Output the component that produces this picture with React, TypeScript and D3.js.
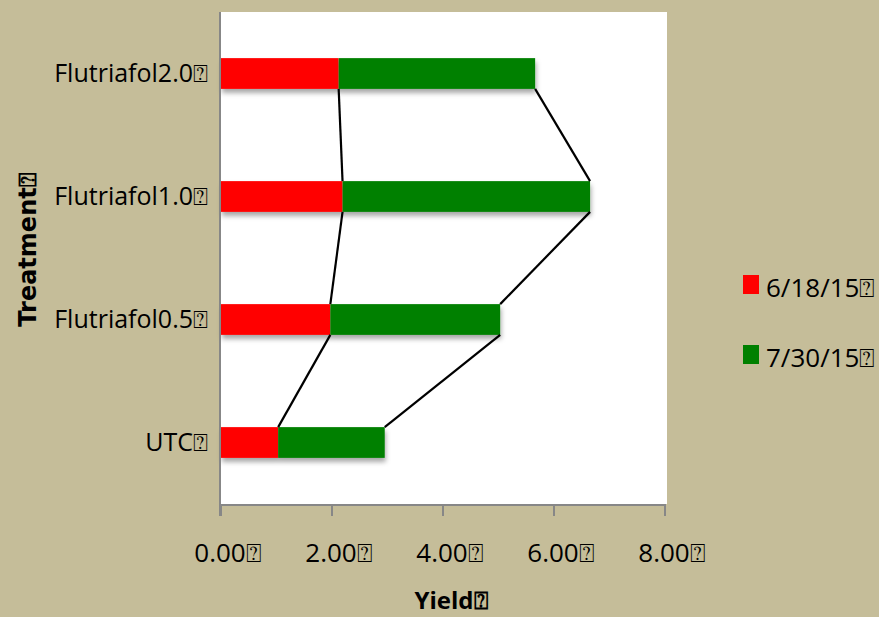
import React from 'react';
import * as d3 from 'd3';

// data
const treatments = ['UTC', 'Flutriafol0.5', 'Flutriafol1.0', 'Flutriafol2.0'];
const june18 = [1.03, 1.97, 2.19, 2.12];
const july30 = [1.92, 3.06, 4.46, 3.54];
const seriesNames = ['6/18/15', '7/30/15'];
const xTicks = [0, 2, 4, 6, 8];

const W = 879;
const H = 617;
const margin = { top: 12, right: 214, bottom: 113, left: 221 };
const BG = '#c5bd99';
const RED = '#ff0000';
const GREEN = '#008000';
const AXIS = '#878787';
const FONT = "'Open Sans', 'DejaVu Sans', sans-serif";
const TITLE_FONT = "'DejaVu Sans', sans-serif";
const TOFU = '\u2370';

const App: React.FC = () => {
  const innerW = W - margin.left - margin.right;
  const innerH = H - margin.top - margin.bottom;

  const x = d3.scaleLinear().domain([0, 8]).range([0, innerW]);
  // UTC at bottom, Flutriafol2.0 on top
  const y = d3
    .scaleBand<string>()
    .domain([...treatments].reverse())
    .range([0, innerH])
    .paddingInner(0.75)
    .paddingOuter(0.375);

  const stacked = treatments.map((t, i) => ({
    t,
    a: june18[i],
    b: june18[i] + july30[i],
  }));

  // series lines between bottom of upper bar and top of lower bar
  const seriesLines: { x1: number; y1: number; x2: number; y2: number }[] = [];
  for (let i = 0; i < stacked.length - 1; i++) {
    const lo = stacked[i];
    const hi = stacked[i + 1];
    const yLoTop = y(lo.t)!;
    const yHiBottom = y(hi.t)! + y.bandwidth();
    seriesLines.push({ x1: x(lo.a), y1: yLoTop, x2: x(hi.a), y2: yHiBottom });
    seriesLines.push({ x1: x(lo.b), y1: yLoTop, x2: x(hi.b), y2: yHiBottom });
  }

  return (
    <div style={{ position: 'absolute', left: 0, top: 0 }}>
      <svg width={W} height={H} style={{ display: 'block', background: BG }}>
        <defs>
          <filter id="shadow" x="-5%" y="-20%" width="110%" height="160%">
            <feDropShadow dx="1" dy="4" stdDeviation="2.5" floodColor="#000" floodOpacity="0.35" />
          </filter>
        </defs>
        <rect width={W} height={H} fill={BG} />
        <g transform={`translate(${margin.left},${margin.top})`}>
          <rect x={0} y={0} width={innerW + 2} height={innerH} fill="#fff" />

          {/* bars */}
          {stacked.map((d) => (
            <g key={d.t} filter="url(#shadow)">
              <rect x={x(0)} y={y(d.t)} width={x(d.a) - x(0)} height={y.bandwidth()} fill={RED} />
              <rect x={x(d.a)} y={y(d.t)} width={x(d.b) - x(d.a)} height={y.bandwidth()} fill={GREEN} />
            </g>
          ))}

          {seriesLines.map((l, i) => (
            <line key={i} {...l} stroke="#000" strokeWidth={2.2} />
          ))}

          {/* axes */}
          <line x1={-1} y1={0} x2={-1} y2={innerH + 12} stroke={AXIS} strokeWidth={2} />
          <line x1={-1} y1={innerH + 1} x2={innerW + 1} y2={innerH + 1} stroke={AXIS} strokeWidth={2} />
          {xTicks.map((t) => (
            <g key={t} transform={`translate(${x(t)},0)`}>
              <line x1={0} y1={innerH} x2={0} y2={innerH + 12} stroke={AXIS} strokeWidth={2} />
              <text
                x={7}
                y={innerH + 58}
                textAnchor="middle"
                fontFamily={FONT}
                fontSize={26}
                fill="#000"
              >
                {t.toFixed(2)}
                {TOFU}
              </text>
            </g>
          ))}

          {treatments.map((t) => (
            <text
              key={t}
              x={-13}
              y={y(t)! + y.bandwidth() / 2 + 8.5}
              textAnchor="end"
              fontFamily={FONT}
              fontSize={25}
              fill="#000"
            >
              {t}
              {TOFU}
            </text>
          ))}
        </g>

        {/* axis titles */}
        <text x={451} y={609} textAnchor="middle" fontFamily={FONT} fontSize={24} fontWeight="bold">
          Yield{TOFU}
        </text>
        <text
          transform="translate(36,250) rotate(-90)"
          textAnchor="middle"
          fontFamily={TITLE_FONT}
          fontSize={24}
          fontWeight="bold"
        >
          Treatment{TOFU}
        </text>

        {/* legend */}
        {seriesNames.map((s, i) => (
          <g key={s} transform={`translate(743,${275 + i * 70})`}>
            <rect width={16} height={19} fill={i === 0 ? RED : GREEN} />
            <text x={23} y={22} fontFamily={FONT} fontSize={26} fill="#000">
              {s}
              {TOFU}
            </text>
          </g>
        ))}
      </svg>
    </div>
  );
};

export default App;
